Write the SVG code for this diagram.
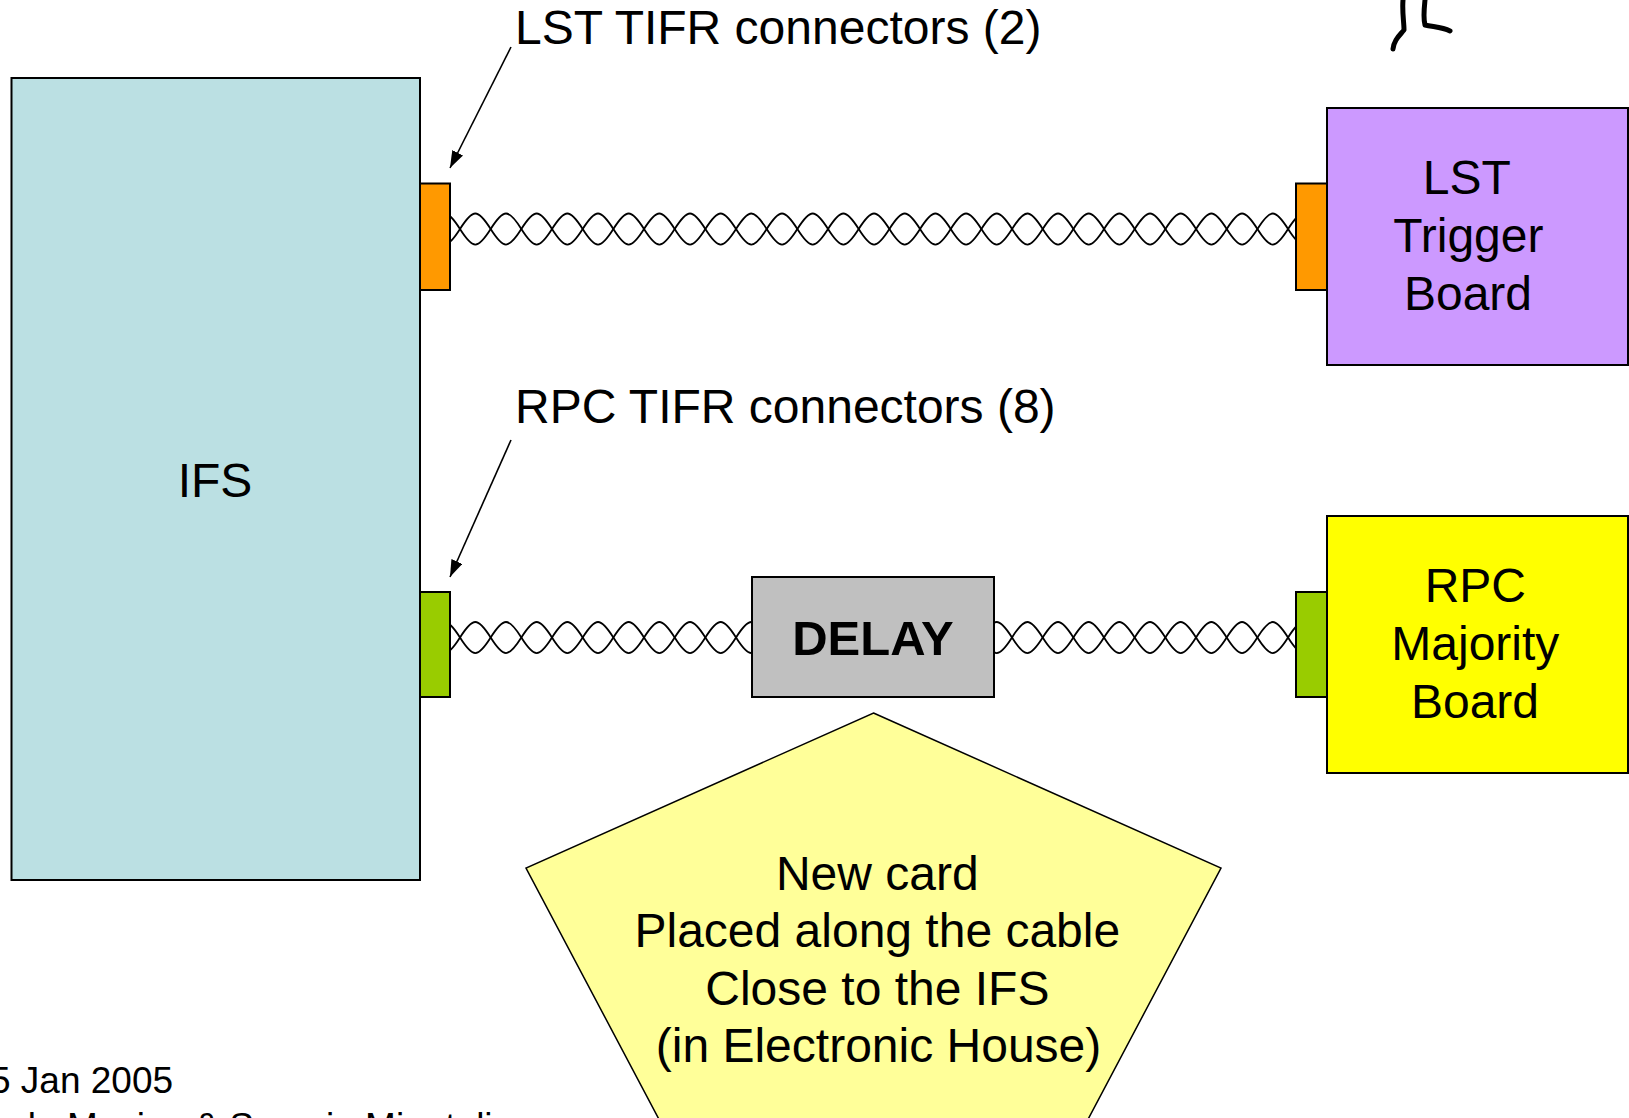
<svg xmlns="http://www.w3.org/2000/svg" xmlns:xlink="http://www.w3.org/1999/xlink" width="1629" height="1118" viewBox="0 0 1629 1118">
<style>
  .box { stroke: #000; stroke-width: 2; }
  .t { font-family: "Liberation Sans", Arial, sans-serif; fill: #000; }
  .wave { fill: none; stroke: #000; stroke-width: 1.8; }
  .lead { stroke: #000; stroke-width: 1.6; fill: none; }
</style>
<defs>
  <marker id="ah" markerWidth="18" markerHeight="12" refX="17" refY="6" orient="auto" markerUnits="userSpaceOnUse">
    <path d="M0,0 L17,6 L0,12 z" fill="#000"/>
  </marker>
  <path id="w11" d="M0,0 c13,-20.7 17.67,-20.7 30.67,0 c13,20.7 17.67,20.7 30.67,0 c13,-20.7 17.67,-20.7 30.67,0 c13,20.7 17.67,20.7 30.67,0 c13,-20.7 17.67,-20.7 30.67,0 c13,20.7 17.67,20.7 30.67,0 c13,-20.7 17.67,-20.7 30.67,0 c13,20.7 17.67,20.7 30.67,0 c13,-20.7 17.67,-20.7 30.67,0 c13,20.7 17.67,20.7 30.67,0 c13,-20.7 17.67,-20.7 30.67,0"/>
  <path id="w29" d="M0,0 c13,-20.7 17.67,-20.7 30.67,0 c13,20.7 17.67,20.7 30.67,0 c13,-20.7 17.67,-20.7 30.67,0 c13,20.7 17.67,20.7 30.67,0 c13,-20.7 17.67,-20.7 30.67,0 c13,20.7 17.67,20.7 30.67,0 c13,-20.7 17.67,-20.7 30.67,0 c13,20.7 17.67,20.7 30.67,0 c13,-20.7 17.67,-20.7 30.67,0 c13,20.7 17.67,20.7 30.67,0 c13,-20.7 17.67,-20.7 30.67,0 c13,20.7 17.67,20.7 30.67,0 c13,-20.7 17.67,-20.7 30.67,0 c13,20.7 17.67,20.7 30.67,0 c13,-20.7 17.67,-20.7 30.67,0 c13,20.7 17.67,20.7 30.67,0 c13,-20.7 17.67,-20.7 30.67,0 c13,20.7 17.67,20.7 30.67,0 c13,-20.7 17.67,-20.7 30.67,0 c13,20.7 17.67,20.7 30.67,0 c13,-20.7 17.67,-20.7 30.67,0 c13,20.7 17.67,20.7 30.67,0 c13,-20.7 17.67,-20.7 30.67,0 c13,20.7 17.67,20.7 30.67,0 c13,-20.7 17.67,-20.7 30.67,0 c13,20.7 17.67,20.7 30.67,0 c13,-20.7 17.67,-20.7 30.67,0 c13,20.7 17.67,20.7 30.67,0 c13,-20.7 17.67,-20.7 30.67,0"/>
</defs>
<rect width="1629" height="1118" fill="#fff"/>

<g id="connectors">
  <g id="cable-lst" class="wave">
    <use xlink:href="#w29" href="#w29" transform="translate(429.33,229)"/>
    <use xlink:href="#w29" href="#w29" transform="translate(429.33,229) scale(1,-1)"/>
  </g>
  <g id="cable-rpc-ifs-delay" class="wave">
    <use xlink:href="#w11" href="#w11" transform="translate(429.33,637.5)"/>
    <use xlink:href="#w11" href="#w11" transform="translate(429.33,637.5) scale(1,-1)"/>
  </g>
  <g id="cable-rpc-delay-board" class="wave">
    <use xlink:href="#w11" href="#w11" transform="translate(981.33,637.5)"/>
    <use xlink:href="#w11" href="#w11" transform="translate(981.33,637.5) scale(1,-1)"/>
  </g>
  <line class="lead" x1="511" y1="47" x2="450" y2="168" marker-end="url(#ah)"/>
  <line class="lead" x1="511" y1="440" x2="450" y2="577" marker-end="url(#ah)"/>
</g>

<g id="ifs">
  <rect class="box" x="11.5" y="78" width="408.5" height="802" fill="#bbe0e3"/>
  <text class="t" x="215" y="497" font-size="48" text-anchor="middle">IFS</text>
</g>
<g id="lst-conn-ifs"><rect class="box" x="420" y="183.5" width="30" height="106.5" fill="#ff9900"/></g>
<g id="rpc-conn-ifs"><rect class="box" x="420" y="592" width="30" height="105" fill="#99cc00"/></g>
<g id="lst-conn-board"><rect class="box" x="1296" y="183.5" width="31" height="106.5" fill="#ff9900"/></g>
<g id="rpc-conn-board"><rect class="box" x="1296" y="592" width="31" height="105" fill="#99cc00"/></g>

<g id="lst-board">
  <rect class="box" x="1327" y="108" width="301" height="257" fill="#cc99ff"/>
  <text class="t" font-size="48" text-anchor="middle">
    <tspan x="1473" y="194">LST</tspan>
    <tspan x="1475" y="252">Trigger</tspan>
    <tspan x="1468" y="310">Board</tspan>
  </text>
</g>
<g id="rpc-board">
  <rect class="box" x="1327" y="516" width="301" height="257" fill="#ffff00"/>
  <text class="t" font-size="48" text-anchor="middle">
    <tspan x="1482" y="602">RPC</tspan>
    <tspan x="1482" y="660">Majority</tspan>
    <tspan x="1475" y="718">Board</tspan>
  </text>
</g>
<g id="delay">
  <rect class="box" x="752" y="577" width="242" height="120" fill="#c0c0c0" stroke-width="1.8"/>
  <text class="t" x="873" y="655" font-size="49" font-weight="bold" text-anchor="middle">DELAY</text>
</g>
<g id="note">
  <polygon points="873.5,713 1221,868 1088.3,1118.8 658.7,1118.8 526,868" fill="#ffff99" stroke="#000" stroke-width="1.5"/>
  <text class="t" font-size="48" text-anchor="middle">
    <tspan x="884" y="889.5">New card</tspan>
    <tspan x="884" y="947">Placed along the cable</tspan>
    <tspan x="884" y="1004.5">Close to the IFS</tspan>
    <tspan x="878.5" y="1062">(in Electronic House)</tspan>
  </text>
</g>

<g id="labels">
  <text class="t" x="515" y="44" font-size="48">LST TIFR connectors (2)</text>
  <text class="t" x="515" y="423" font-size="48">RPC TIFR connectors (8)</text>
  <text class="t" x="-10" y="1093" font-size="37">5 Jan 2005</text>
  <text class="t" x="-38" y="1139" font-size="37">Paolo Musico &amp; Saverio Minutoli</text>
</g>

<g id="sketch" fill="none" stroke="#000" stroke-width="5" stroke-linecap="round" stroke-linejoin="round">
  <path d="M1403,0 C1402,12 1404,22 1404,30 C1399,36 1394,40 1393,49"/>
  <path d="M1425,0 C1424,10 1423,18 1425,25 C1433,27 1442,27 1450,31"/>
</g>
</svg>
